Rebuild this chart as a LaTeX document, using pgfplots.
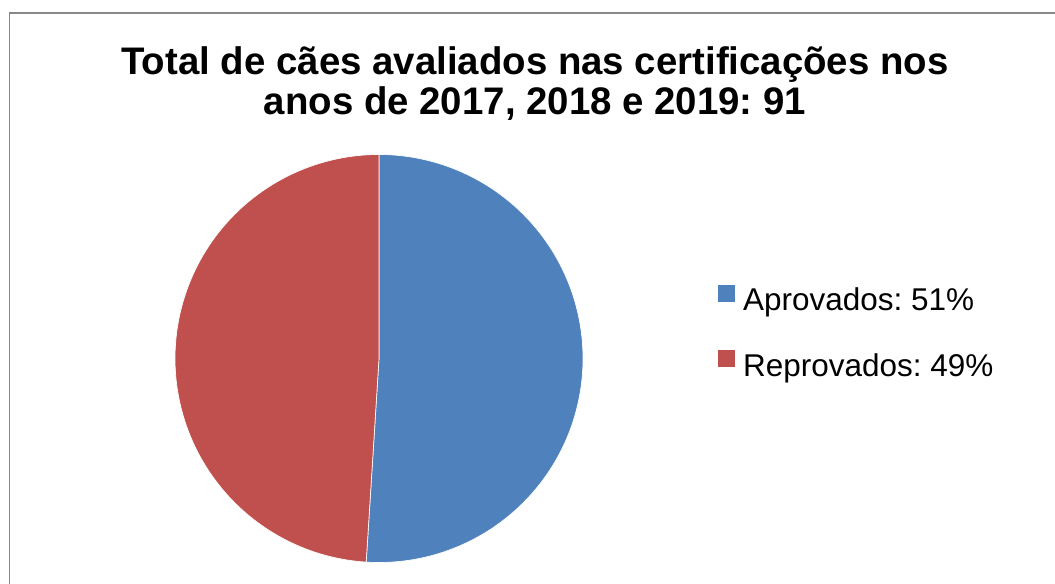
\documentclass[border=0pt]{standalone}
\usepackage{pgfplots}
\pgfplotsset{compat=1.18}
\usepackage{fontspec}
\setmainfont{Liberation Sans}
\frenchspacing
\definecolor{aprov}{HTML}{4F81BD}
\definecolor{reprov}{HTML}{C0504D}
\definecolor{frame}{HTML}{878787}
\def\aprovados{51}
\def\reprovados{49}
\begin{document}
\frenchspacing
\begin{tikzpicture}[x=0.75pt,y=0.75pt]
\clip (0,0) rectangle (1055,583);
\fill[white] (0,0) rectangle (1055,583);
\draw[frame, line width=0.9pt] (9.5,-20) rectangle (1080,570);
\node[anchor=base, inner sep=0pt, font=\bfseries\fontsize{28.8}{35}\selectfont] at (535,508) {Total de cães avaliados nas certificações nos};
\node[anchor=base, inner sep=0pt, font=\bfseries\fontsize{28.8}{35}\selectfont] at (535,468) {anos de 2017, 2018 e 2019: 91};
\begin{axis}[
  at={(284.25pt,168.375pt)}, anchor=center,
  x=153pt, y=153pt,
  xmin=-1, xmax=1, ymin=-1, ymax=1,
  hide axis, clip=false,
  legend cell align=left,
  legend image code/.code={\fill[#1,draw=none] (0pt,0.75pt) rectangle (12.75pt,13.5pt);},
  legend style={at={(axis cs:1.642,0.123)}, anchor=west, draw=none, fill=none,
    font=\fontsize{23.6}{28}\selectfont, row sep=25.5pt, column sep=6pt,
    nodes={inner sep=0pt, text height=16pt, text depth=4.5pt}},
]
\addplot[fill=aprov, draw=white, line width=0.5pt, data cs=polar,
  domain={90-3.6*\aprovados}:90, samples=200] {1} -- (axis cs:0,0) -- cycle;
\addlegendentry{Aprovados: 51\%}
\addplot[fill=reprov, draw=white, line width=0.5pt, data cs=polar,
  domain=90:{90+3.6*\reprovados}, samples=200] {1} -- (axis cs:0,0) -- cycle;
\addlegendentry{Reprovados: 49\%}
\end{axis}
\end{tikzpicture}
\end{document}
